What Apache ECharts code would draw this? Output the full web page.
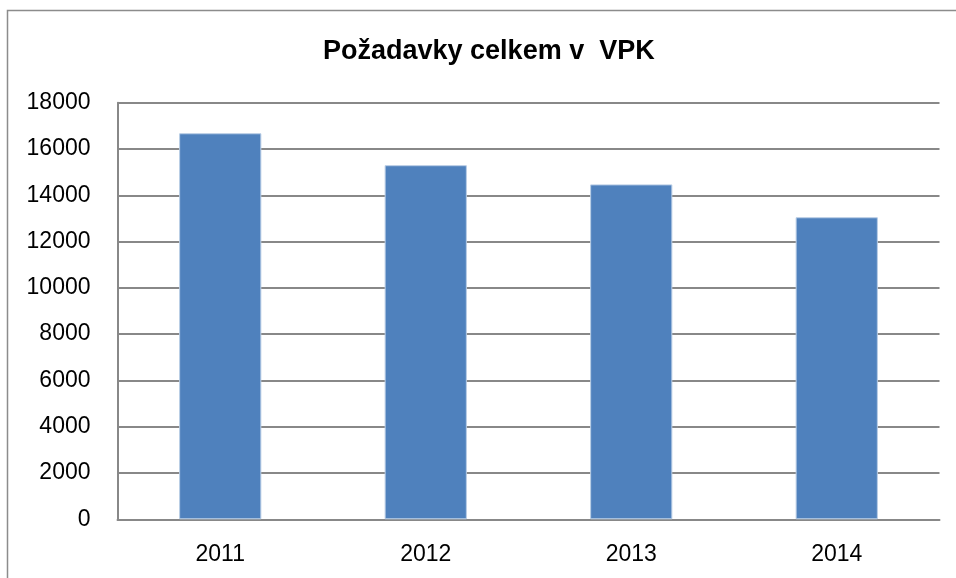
<!DOCTYPE html>
<html><head><meta charset="utf-8">
<script src="https://cdn.jsdelivr.net/npm/echarts@6/dist/echarts.min.js"></script>
<style>html,body{margin:0;padding:0;background:#fff}#c{width:956px;height:578px}</style>
</head><body><div id="c"></div>
<script>
const title = 'Požadavky celkem v  VPK';
const categories = ['2011', '2012', '2013', '2014'];
const values = [16680, 15300, 14470, 13050];

const chart = echarts.init(document.getElementById('c'), null, {renderer: 'canvas'});
const font = 'Liberation Sans, Arial, sans-serif';
chart.setOption({
  animation: false,
  backgroundColor: '#fff',
  title: {
    text: title, left: 318, top: 33,
    textStyle: {fontFamily: font, fontSize: 27, fontWeight: 'bold', color: '#000'}
  },
  graphic: [{
    type: 'rect', shape: {x: 7.5, y: 10.5, width: 1000, height: 1000},
    style: {fill: 'none', stroke: '#8c8c8c', lineWidth: 1.5}, silent: true, z: -1
  }],
  grid: {left: 117.5, right: 16.5, top: 102.7, bottom: 58.7, containLabel: false},
  xAxis: {
    type: 'category', data: categories,
    axisLine: {show: true, lineStyle: {color: '#888', width: 2}},
    axisTick: {show: false},
    axisLabel: {fontFamily: font, fontSize: 23, color: '#000', margin: 24}
  },
  yAxis: {
    type: 'value', min: 0, max: 18000, interval: 2000,
    axisLine: {show: true, lineStyle: {color: '#888', width: 2}},
    axisTick: {show: false},
    splitLine: {lineStyle: {color: '#888', width: 2}},
    axisLabel: {fontFamily: font, fontSize: 23, color: '#000', margin: 27,
      formatter: v => String(v)}
  },
  series: [{
    type: 'bar', data: values, barWidth: '40%',
    itemStyle: {color: '#4F81BD', borderColor: '#b9cde5', borderWidth: 1}
  }]
});
</script></body></html>
